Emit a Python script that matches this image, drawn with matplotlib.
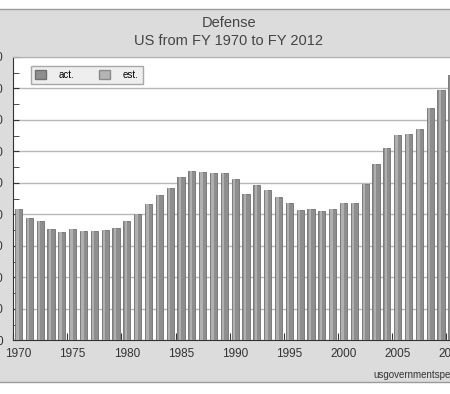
import matplotlib
matplotlib.use('Agg')
import matplotlib.pyplot as plt
from matplotlib.patches import Rectangle, Patch
import numpy as np

plt.rcParams['font.family'] = ['Liberation Sans', 'DejaVu Sans']

# data (bar tops)
years = list(range(1970, 2013))
spending = [417, 387, 379, 352, 343, 352, 346, 346, 349, 356,
            379, 400, 432, 461, 483, 517, 537, 534, 532, 532,
            512, 464, 493, 476, 455, 435, 414, 417, 411, 417,
            437, 437, 497, 559, 610, 653, 656, 671, 737, 795,
            842, 860, 850]
status = ['act.'] * 41 + ['est.'] * 2
ytick_vals = list(range(0, 901, 100))
label_years = list(range(1970, 2011, 5))

title = 'Defense'
subtitle = 'US from FY 1970 to FY 2012'
source = 'usgovernmentspending.com'

base_col = {'act.': '#8e8e8e', 'est.': '#b4b4b4'}
hi_col = {'act.': '#b0b0b0', 'est.': '#cccccc'}

W, H = 450, 394
fig = plt.figure(figsize=(W / 100, H / 100), dpi=100)
fig.patch.set_facecolor('white')

# gray chart panel behind the axes
bg = Rectangle((-0.01, (H - 382) / H), 1.02, (382 - 8.5) / H, transform=fig.transFigure,
               facecolor='#dcdcdc', edgecolor='#9a9a9a', linewidth=1, zorder=-10)
fig.patches.append(bg)

ax = fig.add_axes([13 / W, (H - 340.3) / H, 466 / W, 283.5 / H])
ax.set_zorder(1)
ax.set_facecolor('white')

x = np.array(years)
ax.bar(x, spending, width=0.66, color=[base_col[s] for s in status],
       edgecolor='#707070', linewidth=0.6, zorder=3)
ax.bar(x - 0.1, spending, width=0.22, color=[hi_col[s] for s in status],
       linewidth=0, zorder=4)

ax.set_xlim(1969.5, 2012.5)
ax.set_ylim(0, 900)

ax.set_yticks(ytick_vals)
ax.set_yticklabels([str(v) for v in ytick_vals])
ax.set_yticks(np.arange(50, 900, 100), minor=True)
ax.tick_params(axis='y', which='both', direction='in', length=4, color='#333333',
               pad=7, labelsize=8.5, labelcolor='#333333')
ax.yaxis.grid(True, color='#b8b8b8', linewidth=1)
ax.set_axisbelow(True)

ax.set_xticks(np.arange(1969.5, 2013, 5))
ax.set_xticklabels([])
ax.set_xticks(label_years, minor=True)
ax.set_xticklabels([str(y) for y in label_years], minor=True)
ax.tick_params(axis='x', which='major', direction='in', length=5, color='#333333')
ax.tick_params(axis='x', which='minor', length=0, pad=5.5, labelsize=8.5, labelcolor='#333333')

ax.spines['left'].set_color('#333333')
ax.spines['bottom'].set_color('#333333')
ax.spines['top'].set_color('#b0b0b0')
ax.spines['right'].set_visible(False)

handles = [Patch(facecolor=base_col['act.'], edgecolor='#707070', label='act.'),
           Patch(facecolor=base_col['est.'], edgecolor='#8a8a8a', label='est.')]
ax.legend(handles=handles, loc='upper left', bbox_to_anchor=(0.038, 0.969), ncol=2,
          fontsize=7, frameon=True, fancybox=False, facecolor='#eeeeee', edgecolor='#a8a8a8',
          framealpha=1, handlelength=1.1, handleheight=1.1, handletextpad=1.3,
          columnspacing=2.6, borderpad=0.45, borderaxespad=0)

fig.text(229 / W, 1 - 23 / H, title, ha='center', va='center', fontsize=10.5, color='#444444')
fig.text(229 / W, 1 - 41 / H, subtitle, ha='center', va='center', fontsize=10.5, color='#444444')
fig.text(373 / W, 1 - 375 / H, source, ha='left', va='center', fontsize=7, color='#333333')

fig.savefig('out.png', dpi=100)
